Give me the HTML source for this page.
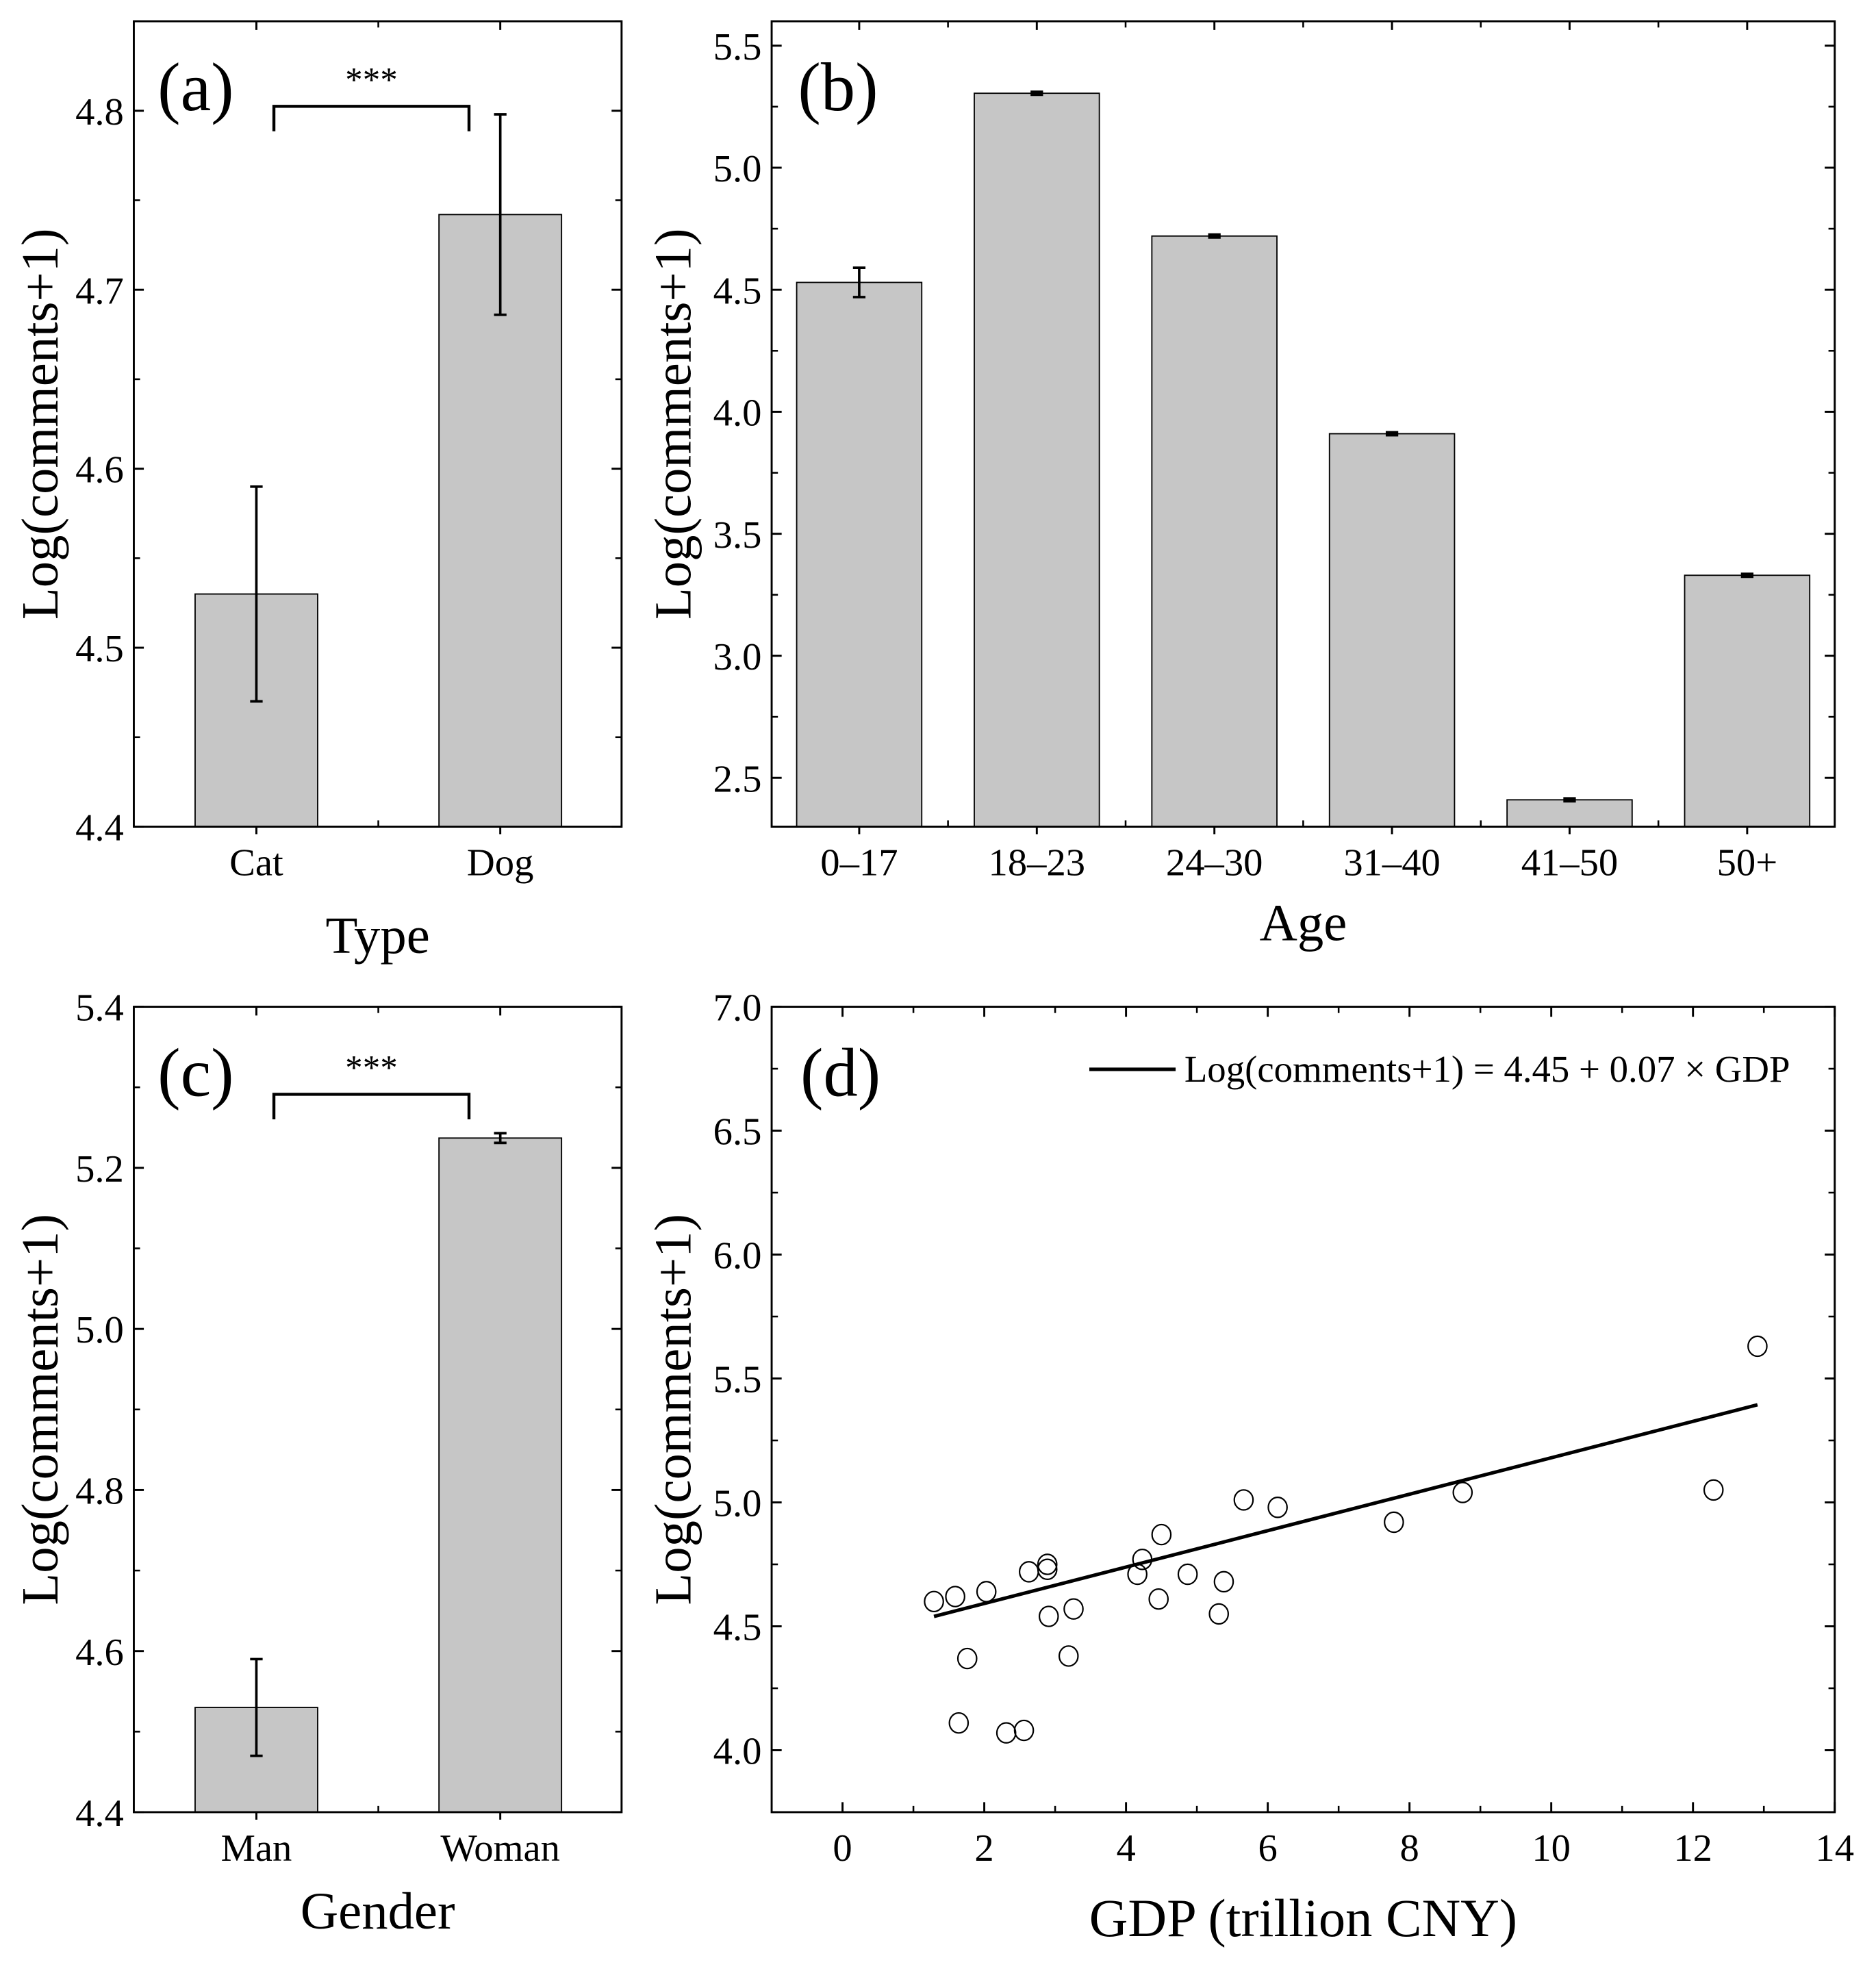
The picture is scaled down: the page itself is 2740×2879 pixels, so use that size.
<!DOCTYPE html>
<html><head><meta charset="utf-8"><style>
html,body{margin:0;padding:0;background:#fff}
svg{display:block;font-family:"Liberation Serif",serif}
</style></head><body>
<svg id="fig" width="2740" height="2879" viewBox="0 0 1500 1576" preserveAspectRatio="none" xmlns="http://www.w3.org/2000/svg"></svg>
<script>
// Panel (a)
const typeCats=["Cat","Dog"];
const typeVals=[4.53,4.742];
const typeErr=[0.06,0.056];
const typeTicks=[4.4,4.5,4.6,4.7,4.8];
// Panel (b)
const ageCats=["0–17","18–23","24–30","31–40","41–50","50+"];
const ageVals=[4.53,5.305,4.72,3.91,2.41,3.33];
const ageErr=[0.06,0.006,0.006,0.006,0.006,0.006];
const ageTicks=[2.5,3.0,3.5,4.0,4.5,5.0,5.5];
// Panel (c)
const genderCats=["Man","Woman"];
const genderVals=[4.53,5.237];
const genderErr=[0.06,0.006];
const genderTicks=[4.4,4.6,4.8,5.0,5.2,5.4];
// Panel (d)
const gdpX=[1.29,1.59,2.03,1.76,1.64,2.31,2.56,2.63,2.89,2.89,2.91,3.26,3.19,4.16,4.23,4.50,4.46,4.87,5.31,5.38,5.66,6.14,7.78,8.75,12.29,12.91];
const gdpY=[4.60,4.62,4.64,4.37,4.11,4.07,4.08,4.72,4.73,4.75,4.54,4.57,4.38,4.71,4.77,4.87,4.61,4.71,4.55,4.68,5.01,4.98,4.92,5.04,5.05,5.63];
const fitCoef=[4.445,0.0735];
const gdpXTicks=[0,2,4,6,8,10,12,14];
const gdpYTicks=[4.0,4.5,5.0,5.5,6.0,6.5,7.0];

const svg=document.getElementById('fig');
const NS="http://www.w3.org/2000/svg";
function mk(tag,attrs,parent,text){
  const e=document.createElementNS(NS,tag);
  for(const k in attrs)e.setAttribute(k,attrs[k]);
  if(text!==undefined)e.textContent=text;
  (parent||svg).appendChild(e);return e;
}
function scale(d0,d1,r0,r1){return v=>r0+(v-d0)/(d1-d0)*(r1-r0);}

function frame(g,x0,x1,y0,y1){
  const r=mk('rect',{x:x0,y:y0,width:x1-x0,height:y1-y0,fill:'none',stroke:'#000','stroke-width':1.6},g);
  
  
}
function yAxis(g,ticks,ys,x0,x1,fmt,minor){
  ticks.forEach(t=>{
    const y=ys(t);
    mk('line',{x1:x0,x2:x0+8,y1:y,y2:y,stroke:'#000','stroke-width':1.6},g);
    mk('line',{x1:x1,x2:x1-8,y1:y,y2:y,stroke:'#000','stroke-width':1.6},g);
    const tx=mk('text',{x:x0-8,y:y+11,'text-anchor':'end','font-size':31},g,fmt(t));
    
    
  });
  for(let i=0;i<ticks.length;i++){
    const t=ticks[i]+minor;
    const y=ys(t);
    if(y<ys.top||y>ys.bot)continue;
    mk('line',{x1:x0,x2:x0+5,y1:y,y2:y,stroke:'#000','stroke-width':1.4},g);
    mk('line',{x1:x1,x2:x1-5,y1:y,y2:y,stroke:'#000','stroke-width':1.4},g);
  }
  if(ys(ticks[0]-minor)<=ys.bot){const y=ys(ticks[0]-minor);
    mk('line',{x1:x0,x2:x0+5,y1:y,y2:y,stroke:'#000','stroke-width':1.4},g);
    mk('line',{x1:x1,x2:x1-5,y1:y,y2:y,stroke:'#000','stroke-width':1.4},g);}
}
function yTitle(g,x,cy){
  const t=mk('text',{x:x,y:cy,'text-anchor':'middle','font-size':42,transform:`rotate(-90 ${x} ${cy})`},g,'Log(comments+1)');
  
  
}
function panelLabel(g,x,y,s){
  const t=mk('text',{x:x,y:y,'font-size':55},g,s);
  
  
}
function barPanel(name,cats,vals,errs,ticks,dmin,dmax,x0,x1,y0,y1,centers,bw,fmt,minor,xtitle,xtY,tickLabY){
  const g=mk('g',{});
  
  
  const ys=scale(dmin,dmax,y1,y0);ys.top=y0;ys.bot=y1;
  const step=centers.length>1?centers[1]-centers[0]:100;
  cats.forEach((c,i)=>{
    const cx=centers[i],yv=ys(vals[i]);
    const b=mk('rect',{x:cx-bw/2,y:yv,width:bw,height:y1-yv,fill:'#c6c6c6',stroke:'#000','stroke-width':1},g);
    
    
    const ya=ys(vals[i]+errs[i]),yb=ys(vals[i]-errs[i]);
    mk('path',{d:`M${cx},${ya}V${yb}M${cx-5},${ya}H${cx+5}M${cx-5},${yb}H${cx+5}`,stroke:'#000','stroke-width':2,fill:'none'},g);
    mk('line',{x1:cx,x2:cx,y1:y1,y2:y1+6,stroke:'#000','stroke-width':1.6},g);
    mk('line',{x1:cx,x2:cx,y1:y0,y2:y0+7,stroke:'#000','stroke-width':1.6},g);
    if(i<cats.length-1){const mx=cx+step/2;
      mk('line',{x1:mx,x2:mx,y1:y1,y2:y1-5,stroke:'#000','stroke-width':1.4},g);
      mk('line',{x1:mx,x2:mx,y1:y0,y2:y0+5,stroke:'#000','stroke-width':1.4},g);}
    const t=mk('text',{x:cx,y:tickLabY,'text-anchor':'middle','font-size':31},g,c);
    
    
  });
  yAxis(g,ticks,ys,x0,x1,fmt,minor);
  frame(g,x0,x1,y0,y1);
  const xt=mk('text',{x:(x0+x1)/2,y:xtY,'text-anchor':'middle','font-size':42},g,xtitle);
  
  
  return {g,ys};
}
function bracket(g,xa,xb,y,ylegs,ty){
  const b=mk('path',{d:`M${xa},${ylegs}V${y}H${xb}V${ylegs}`,stroke:'#000','stroke-width':2.4,fill:'none'},g);
  
  
  const s=mk('text',{x:(xa+xb)/2,y:ty,'text-anchor':'middle','font-size':28},g,'***');
  
  
}

// (a)
let pa=barPanel('panel-a-type',typeCats,typeVals,typeErr,typeTicks,4.4,4.85,107,497,17,661,[205,400],98,t=>t.toFixed(1),0.05,'Type',762,700);
yTitle(pa.g,46,339);panelLabel(pa.g,126,88,'(a)');
bracket(pa.g,219,375,85,105,73);
// (b)
let pb=barPanel('panel-b-age',ageCats,ageVals,ageErr,ageTicks,2.3,5.6,617,1467,17,661,[687,829,971,1113,1255,1397],100,t=>t.toFixed(1),0.25,'Age',752,700);
yTitle(pb.g,552,339);panelLabel(pb.g,638,88,'(b)');
// (c)
let pc=barPanel('panel-c-gender',genderCats,genderVals,genderErr,genderTicks,4.4,5.4,107,497,805,1449,[205,400],98,t=>t.toFixed(1),0.1,'Gender',1542,1488);
yTitle(pc.g,46,1127);panelLabel(pc.g,126,876,'(c)');
bracket(pc.g,219,375,875,895,863);
// (d)
(function(){
  const g=mk('g',{});
  
  
  const x0=617,x1=1467,y0=805,y1=1449;
  const xs=scale(-1,14,x0,x1),ys=scale(3.75,7.0,y1,y0);ys.top=y0;ys.bot=y1;
  gdpXTicks.forEach(t=>{
    const x=xs(t);
    mk('line',{x1:x,x2:x,y1:y1,y2:y1-8,stroke:'#000','stroke-width':1.6},g);
    mk('line',{x1:x,x2:x,y1:y0,y2:y0+8,stroke:'#000','stroke-width':1.6},g);
    const m=xs(t+1);
    if(m<x1){mk('line',{x1:m,x2:m,y1:y1,y2:y1-5,stroke:'#000','stroke-width':1.4},g);
      mk('line',{x1:m,x2:m,y1:y0,y2:y0+5,stroke:'#000','stroke-width':1.4},g);}
    const tl=mk('text',{x:x,y:1488,'text-anchor':'middle','font-size':31},g,String(t));
    
    
  });
  yAxis(g,gdpYTicks,ys,x0,x1,t=>t.toFixed(1),0.25);
  frame(g,x0,x1,y0,y1);
  yTitle(g,552,1127);panelLabel(g,640,876,'(d)');
  const xt=mk('text',{x:1042,y:1548,'text-anchor':'middle','font-size':43},g,'GDP (trillion CNY)');
  
  
  const xmin=Math.min(...gdpX),xmax=Math.max(...gdpX);
  const fl=mk('line',{x1:xs(xmin),y1:ys(fitCoef[0]+fitCoef[1]*xmin),x2:xs(xmax),y2:ys(fitCoef[0]+fitCoef[1]*xmax),stroke:'#000','stroke-width':2.8},g);
  
  
  gdpX.forEach((v,i)=>{
    const p=mk('ellipse',{cx:xs(v),cy:ys(gdpY[i]),rx:7.5,ry:8,fill:'none',stroke:'#000','stroke-width':1.2},g);
    
    
  });
  const lg=mk('g',{},g);
  
  
  mk('line',{x1:871,x2:940,y1:855,y2:855,stroke:'#000','stroke-width':2.8},lg);
  mk('text',{x:947,y:865,'font-size':30},lg,'Log(comments+1) = 4.45 + 0.07 × GDP');
})();
</script>
</body></html>
